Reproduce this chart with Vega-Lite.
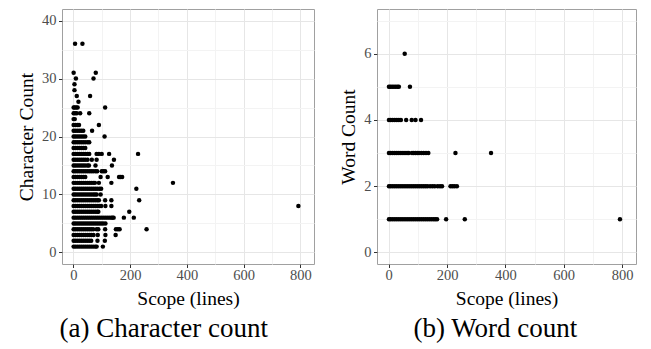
{
"$schema": "https://vega.github.io/schema/vega-lite/v6.json",
"padding": {"left": 16, "top": 8, "right": 0, "bottom": 0},
"background": "white",
"config": {
  "font": "Liberation Serif",
  "view": {"stroke": "#a0a0a0", "strokeWidth": 1},
  "concat": {"spacing": 23},
  "axis": {"domain": false, "tickColor": "#333333", "tickSize": 3.5, "labelPadding": 2.5, "labelFontSize": 14.5, "labelColor": "#4d4d4d", "labelFont": "Liberation Serif", "titleFont": "Liberation Serif", "titleFontSize": 19.5, "titleFontWeight": "normal", "titleColor": "#000000", "gridColor": "#e6e6e6", "gridWidth": 1, "labelFlush": false},
  "axisX": {"titlePadding": 8, "labelPadding": 0.5},
  "axisY": {"titlePadding": 5},
  "title": {"font": "Liberation Serif", "fontSize": 27, "fontWeight": "normal", "color": "#000000"}
},
"datasets": {
"chars": [
{"s":6,"c":36},{"s":32,"c":36},
{"s":1,"c":31},{"s":79,"c":31},
{"s":9,"c":30},{"s":71,"c":30},
{"s":4,"c":29},
{"s":4,"c":28},
{"s":12,"c":27},{"s":59,"c":27},
{"s":18,"c":26},
{"s":1,"c":25},{"s":5,"c":25},{"s":10,"c":25},{"s":15,"c":25},{"s":112,"c":25},
{"s":1,"c":24},{"s":6,"c":24},{"s":12,"c":24},{"s":24,"c":24},{"s":56,"c":24},
{"s":1,"c":23},{"s":5,"c":23},
{"s":1,"c":22},{"s":7,"c":22},{"s":14,"c":22},{"s":20,"c":22},{"s":90,"c":22},
{"s":1,"c":21},{"s":7,"c":21},{"s":14,"c":21},{"s":21,"c":21},{"s":28,"c":21},{"s":35,"c":21},{"s":66,"c":21},
{"s":1,"c":20},{"s":7,"c":20},{"s":14,"c":20},{"s":21,"c":20},{"s":28,"c":20},{"s":35,"c":20},{"s":42,"c":20},{"s":110,"c":20},
{"s":1,"c":19},{"s":7,"c":19},{"s":14,"c":19},{"s":21,"c":19},{"s":28,"c":19},{"s":35,"c":19},{"s":42,"c":19},{"s":50,"c":19},{"s":56,"c":19},
{"s":1,"c":18},{"s":7,"c":18},{"s":14,"c":18},{"s":21,"c":18},{"s":28,"c":18},{"s":35,"c":18},{"s":42,"c":18},
{"s":1,"c":17},{"s":7,"c":17},{"s":14,"c":17},{"s":21,"c":17},{"s":28,"c":17},{"s":35,"c":17},{"s":42,"c":17},{"s":50,"c":17},{"s":56,"c":17},{"s":82,"c":17},{"s":90,"c":17},{"s":100,"c":17},{"s":126,"c":17},{"s":228,"c":17},
{"s":1,"c":16},{"s":7,"c":16},{"s":14,"c":16},{"s":21,"c":16},{"s":28,"c":16},{"s":35,"c":16},{"s":42,"c":16},{"s":50,"c":16},{"s":65,"c":16},{"s":82,"c":16},{"s":143,"c":16},
{"s":1,"c":15},{"s":7,"c":15},{"s":14,"c":15},{"s":21,"c":15},{"s":28,"c":15},{"s":35,"c":15},{"s":42,"c":15},{"s":50,"c":15},{"s":55,"c":15},{"s":78,"c":15},{"s":136,"c":15},
{"s":1,"c":14},{"s":7,"c":14},{"s":14,"c":14},{"s":21,"c":14},{"s":28,"c":14},{"s":35,"c":14},{"s":42,"c":14},{"s":49,"c":14},{"s":56,"c":14},{"s":63,"c":14},{"s":70,"c":14},{"s":78,"c":14},{"s":84,"c":14},{"s":100,"c":14},{"s":106,"c":14},{"s":112,"c":14},
{"s":1,"c":13},{"s":7,"c":13},{"s":14,"c":13},{"s":21,"c":13},{"s":28,"c":13},{"s":35,"c":13},{"s":42,"c":13},{"s":96,"c":13},{"s":121,"c":13},{"s":161,"c":13},{"s":166,"c":13},{"s":172,"c":13},
{"s":1,"c":12},{"s":7,"c":12},{"s":14,"c":12},{"s":21,"c":12},{"s":28,"c":12},{"s":35,"c":12},{"s":42,"c":12},{"s":49,"c":12},{"s":56,"c":12},{"s":63,"c":12},{"s":70,"c":12},{"s":76,"c":12},{"s":90,"c":12},{"s":134,"c":12},{"s":351,"c":12},
{"s":1,"c":11},{"s":7,"c":11},{"s":14,"c":11},{"s":21,"c":11},{"s":28,"c":11},{"s":35,"c":11},{"s":42,"c":11},{"s":49,"c":11},{"s":56,"c":11},{"s":63,"c":11},{"s":70,"c":11},{"s":77,"c":11},{"s":84,"c":11},{"s":92,"c":11},{"s":98,"c":11},{"s":222,"c":11},
{"s":1,"c":10},{"s":7,"c":10},{"s":14,"c":10},{"s":21,"c":10},{"s":28,"c":10},{"s":35,"c":10},{"s":42,"c":10},{"s":49,"c":10},{"s":56,"c":10},{"s":63,"c":10},{"s":70,"c":10},{"s":76,"c":10},{"s":82,"c":10},{"s":96,"c":10},
{"s":1,"c":9},{"s":7,"c":9},{"s":14,"c":9},{"s":21,"c":9},{"s":28,"c":9},{"s":35,"c":9},{"s":42,"c":9},{"s":49,"c":9},{"s":56,"c":9},{"s":63,"c":9},{"s":70,"c":9},{"s":77,"c":9},{"s":84,"c":9},{"s":90,"c":9},{"s":112,"c":9},{"s":134,"c":9},{"s":232,"c":9},
{"s":1,"c":8},{"s":7,"c":8},{"s":14,"c":8},{"s":21,"c":8},{"s":28,"c":8},{"s":35,"c":8},{"s":42,"c":8},{"s":49,"c":8},{"s":56,"c":8},{"s":63,"c":8},{"s":70,"c":8},{"s":77,"c":8},{"s":84,"c":8},{"s":91,"c":8},{"s":98,"c":8},{"s":113,"c":8},{"s":134,"c":8},{"s":793,"c":8},
{"s":1,"c":7},{"s":7,"c":7},{"s":14,"c":7},{"s":21,"c":7},{"s":28,"c":7},{"s":35,"c":7},{"s":42,"c":7},{"s":49,"c":7},{"s":56,"c":7},{"s":63,"c":7},{"s":70,"c":7},{"s":77,"c":7},{"s":84,"c":7},{"s":88,"c":7},{"s":197,"c":7},
{"s":1,"c":6},{"s":7,"c":6},{"s":14,"c":6},{"s":21,"c":6},{"s":28,"c":6},{"s":35,"c":6},{"s":42,"c":6},{"s":49,"c":6},{"s":56,"c":6},{"s":63,"c":6},{"s":70,"c":6},{"s":77,"c":6},{"s":84,"c":6},{"s":91,"c":6},{"s":98,"c":6},{"s":105,"c":6},{"s":112,"c":6},{"s":119,"c":6},{"s":126,"c":6},{"s":133,"c":6},{"s":138,"c":6},{"s":142,"c":6},{"s":178,"c":6},{"s":213,"c":6},
{"s":1,"c":5},{"s":7,"c":5},{"s":14,"c":5},{"s":21,"c":5},{"s":28,"c":5},{"s":35,"c":5},{"s":42,"c":5},{"s":49,"c":5},{"s":56,"c":5},{"s":63,"c":5},{"s":70,"c":5},{"s":77,"c":5},{"s":84,"c":5},{"s":91,"c":5},{"s":98,"c":5},{"s":105,"c":5},{"s":113,"c":5},
{"s":1,"c":4},{"s":7,"c":4},{"s":14,"c":4},{"s":21,"c":4},{"s":28,"c":4},{"s":35,"c":4},{"s":42,"c":4},{"s":49,"c":4},{"s":56,"c":4},{"s":63,"c":4},{"s":70,"c":4},{"s":82,"c":4},{"s":88,"c":4},{"s":112,"c":4},{"s":150,"c":4},{"s":157,"c":4},{"s":163,"c":4},{"s":258,"c":4},
{"s":1,"c":3},{"s":7,"c":3},{"s":14,"c":3},{"s":21,"c":3},{"s":28,"c":3},{"s":35,"c":3},{"s":42,"c":3},{"s":49,"c":3},{"s":56,"c":3},{"s":63,"c":3},{"s":71,"c":3},{"s":86,"c":3},{"s":113,"c":3},{"s":149,"c":3},
{"s":1,"c":2},{"s":7,"c":2},{"s":14,"c":2},{"s":21,"c":2},{"s":28,"c":2},{"s":35,"c":2},{"s":42,"c":2},{"s":49,"c":2},{"s":56,"c":2},{"s":63,"c":2},{"s":85,"c":2},{"s":111,"c":2},
{"s":1,"c":1},{"s":7,"c":1},{"s":14,"c":1},{"s":21,"c":1},{"s":28,"c":1},{"s":35,"c":1},{"s":42,"c":1},{"s":49,"c":1},{"s":56,"c":1},{"s":63,"c":1},{"s":70,"c":1},{"s":77,"c":1},{"s":82,"c":1},{"s":104,"c":1}
],
"words": [
{"s":55,"w":6},
{"s":1,"w":5},{"s":6,"w":5},{"s":12,"w":5},{"s":18,"w":5},{"s":24,"w":5},{"s":30,"w":5},{"s":35,"w":5},{"s":73,"w":5},
{"s":1,"w":4},{"s":7,"w":4},{"s":14,"w":4},{"s":21,"w":4},{"s":28,"w":4},{"s":35,"w":4},{"s":42,"w":4},{"s":60,"w":4},{"s":79,"w":4},{"s":92,"w":4},{"s":111,"w":4},
{"s":1,"w":3},{"s":7,"w":3},{"s":14,"w":3},{"s":21,"w":3},{"s":28,"w":3},{"s":35,"w":3},{"s":42,"w":3},{"s":49,"w":3},{"s":56,"w":3},{"s":63,"w":3},{"s":69,"w":3},{"s":80,"w":3},{"s":86,"w":3},{"s":92,"w":3},{"s":98,"w":3},{"s":104,"w":3},{"s":112,"w":3},{"s":120,"w":3},{"s":128,"w":3},{"s":136,"w":3},{"s":229,"w":3},{"s":351,"w":3},
{"s":1,"w":2},{"s":7,"w":2},{"s":14,"w":2},{"s":21,"w":2},{"s":28,"w":2},{"s":35,"w":2},{"s":42,"w":2},{"s":49,"w":2},{"s":56,"w":2},{"s":63,"w":2},{"s":70,"w":2},{"s":77,"w":2},{"s":84,"w":2},{"s":91,"w":2},{"s":98,"w":2},{"s":105,"w":2},{"s":112,"w":2},{"s":119,"w":2},{"s":126,"w":2},{"s":133,"w":2},{"s":142,"w":2},{"s":150,"w":2},{"s":158,"w":2},{"s":168,"w":2},{"s":176,"w":2},{"s":183,"w":2},{"s":212,"w":2},{"s":219,"w":2},{"s":226,"w":2},{"s":234,"w":2},
{"s":1,"w":1},{"s":7,"w":1},{"s":14,"w":1},{"s":21,"w":1},{"s":28,"w":1},{"s":35,"w":1},{"s":42,"w":1},{"s":49,"w":1},{"s":56,"w":1},{"s":63,"w":1},{"s":70,"w":1},{"s":77,"w":1},{"s":84,"w":1},{"s":91,"w":1},{"s":98,"w":1},{"s":105,"w":1},{"s":112,"w":1},{"s":119,"w":1},{"s":126,"w":1},{"s":133,"w":1},{"s":140,"w":1},{"s":147,"w":1},{"s":154,"w":1},{"s":160,"w":1},{"s":166,"w":1},{"s":197,"w":1},{"s":261,"w":1},{"s":793,"w":1}
]
},
"hconcat": [
{
  "width": 252, "height": 255,
  "title": {"text": "(a) Character count", "orient": "bottom", "anchor": "middle", "frame": "bounds", "offset": 8, "dx": -1.5},
  "data": {"name": "chars"},
  "resolve": {"axis": {"x": "independent", "y": "independent"}},
  "layer": [
    {"mark": {"type": "point", "opacity": 0},
     "encoding": {
       "x": {"field": "s", "type": "quantitative", "scale": {"domain": [-40, 848], "nice": false, "zero": false}, "axis": {"orient": "bottom", "values": [100, 300, 500, 700], "grid": true, "gridColor": "#f3f3f3", "labels": false, "ticks": false, "title": null}},
       "y": {"field": "c", "type": "quantitative", "scale": {"domain": [-2, 42], "nice": false, "zero": false}, "axis": {"orient": "left", "values": [5, 15, 25, 35], "grid": true, "gridColor": "#f3f3f3", "labels": false, "ticks": false, "title": null}}
     }},
    {"mark": {"type": "circle", "size": 20, "color": "#000000", "opacity": 1},
     "encoding": {
       "x": {"field": "s", "type": "quantitative", "scale": {"domain": [-40, 848], "nice": false, "zero": false}, "axis": {"orient": "bottom", "values": [0, 200, 400, 600, 800], "grid": true, "title": "Scope (lines)"}},
       "y": {"field": "c", "type": "quantitative", "scale": {"domain": [-2, 42], "nice": false, "zero": false}, "axis": {"orient": "left", "values": [0, 10, 20, 30, 40], "grid": true, "title": "Character Count"}}
     }}
  ]
},
{
  "width": 259, "height": 255,
  "title": {"text": "(b) Word count", "orient": "bottom", "anchor": "middle", "frame": "bounds", "offset": 8, "dx": 8},
  "data": {"name": "words"},
  "resolve": {"axis": {"x": "independent", "y": "independent"}},
  "layer": [
    {"mark": {"type": "point", "opacity": 0},
     "encoding": {
       "x": {"field": "s", "type": "quantitative", "scale": {"domain": [-40, 848], "nice": false, "zero": false}, "axis": {"orient": "bottom", "values": [100, 300, 500, 700], "grid": true, "gridColor": "#f3f3f3", "labels": false, "ticks": false, "title": null}},
       "y": {"field": "w", "type": "quantitative", "scale": {"domain": [-0.35, 7.35], "nice": false, "zero": false}, "axis": {"orient": "left", "values": [1, 3, 5, 7], "grid": true, "gridColor": "#f3f3f3", "labels": false, "ticks": false, "title": null}}
     }},
    {"mark": {"type": "circle", "size": 20, "color": "#000000", "opacity": 1},
     "encoding": {
       "x": {"field": "s", "type": "quantitative", "scale": {"domain": [-40, 848], "nice": false, "zero": false}, "axis": {"orient": "bottom", "values": [0, 200, 400, 600, 800], "grid": true, "title": "Scope (lines)"}},
       "y": {"field": "w", "type": "quantitative", "scale": {"domain": [-0.35, 7.35], "nice": false, "zero": false}, "axis": {"orient": "left", "values": [0, 2, 4, 6], "grid": true, "title": "Word Count"}}
     }}
  ]
}
]
}
